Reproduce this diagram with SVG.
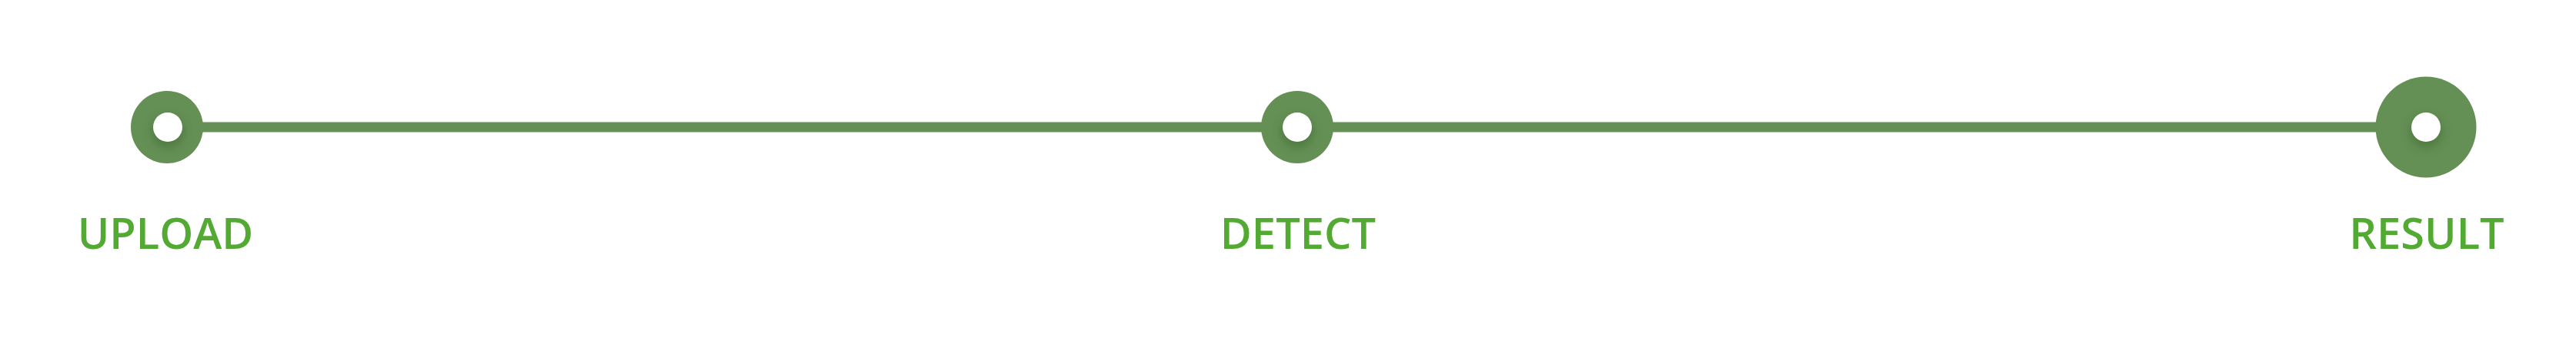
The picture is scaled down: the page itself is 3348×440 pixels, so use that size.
<svg xmlns="http://www.w3.org/2000/svg" width="3348" height="440" viewBox="0 0 3348 440">
<style>
.ring{fill:#648f55}
.hole{fill:#ffffff}
.shade{fill:#3f6a33;opacity:0.55}
.label{font-family:"Open Sans","Liberation Sans",sans-serif;font-weight:600;font-size:56px;fill:#53aa33;text-anchor:middle}
.conn{stroke:#648f55;stroke-width:13;fill:none}
</style>
<defs>
<filter id="soft" x="-50%" y="-50%" width="200%" height="200%"><feGaussianBlur stdDeviation="6"/></filter>
</defs>
<rect width="3348" height="440" fill="#ffffff"/>
<g id="connectors">
<line class="conn" x1="217" y1="165" x2="1686" y2="165"/>
<line class="conn" x1="1686" y1="165" x2="3153" y2="165"/>
</g>
<g id="node-upload">
<circle class="ring" cx="217" cy="165" r="47"/>
<circle class="shade" cx="218" cy="171" r="21" filter="url(#soft)"/>
<circle class="hole" cx="218" cy="165" r="19"/>
<text class="label" x="215" y="323">UPLOAD</text>
</g>
<g id="node-detect">
<circle class="ring" cx="1686" cy="165" r="47"/>
<circle class="shade" cx="1686" cy="171" r="21" filter="url(#soft)"/>
<circle class="hole" cx="1686" cy="165" r="19"/>
<text class="label" x="1687" y="323">DETECT</text>
</g>
<g id="node-result">
<circle class="ring" cx="3153" cy="165" r="65.5"/>
<circle class="shade" cx="3153" cy="171" r="21" filter="url(#soft)"/>
<circle class="hole" cx="3153" cy="165" r="19"/>
<text class="label" x="3154" y="323">RESULT</text>
</g>
</svg>
